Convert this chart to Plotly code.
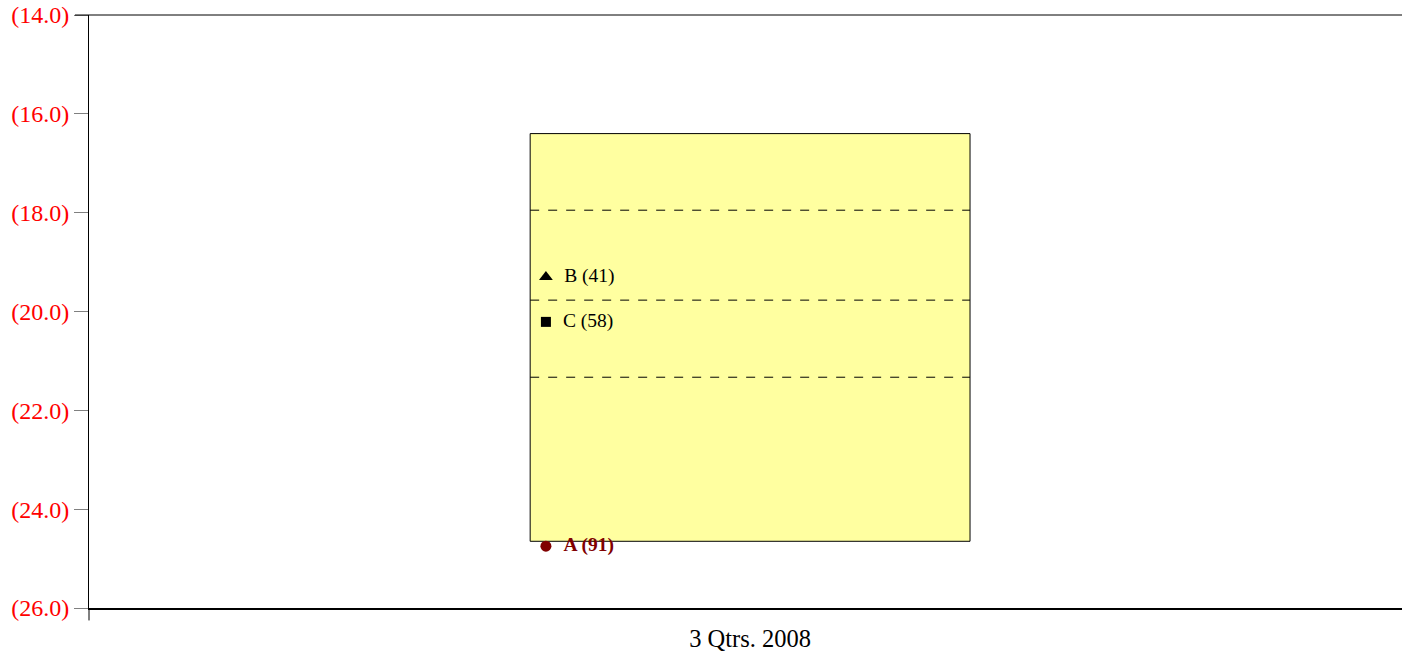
import plotly.graph_objects as go

# Data
period_label = "3 Qtrs. 2008"
y_ticks = [-14, -16, -18, -20, -22, -24, -26]
y_tick_labels = ["(14.0)", "(16.0)", "(18.0)", "(20.0)", "(22.0)", "(24.0)", "(26.0)"]
box_top = -16.4
box_bottom = -24.65
quartile_lines = [-17.95, -19.77, -21.33]
point_names = ["B (41)", "C (58)", "A (91)"]
point_values = [-19.3, -20.21, -24.75]
point_symbols = ["triangle-up", "square", "circle"]
point_sizes = [12, 10, 11]
point_colors = ["black", "black", "#800000"]
point_bold = [False, False, True]

box_x0, box_x1 = 0.336, 0.671
point_x = 0.348
center_x = (box_x0 + box_x1) / 2

fig = go.Figure()

# Box
fig.add_shape(type="rect", xref="x", yref="y", x0=box_x0, x1=box_x1,
              y0=box_bottom, y1=box_top, fillcolor="#FFFFA0",
              line=dict(color="black", width=1), layer="below")
for q in quartile_lines:
    fig.add_shape(type="line", xref="x", yref="y", x0=box_x0, x1=box_x1,
                  y0=q, y1=q, line=dict(color="black", width=1, dash="dash"))

for name, val, sym, sz, col, bold in zip(point_names, point_values, point_symbols,
                                          point_sizes, point_colors, point_bold):
    label = f"<b>{name}</b>" if bold else name
    fig.add_trace(go.Scatter(
        x=[point_x], y=[val], mode="markers+text",
        marker=dict(symbol=sym, size=sz, color=col),
        text=["\u00a0\u00a0" + label], textposition="middle right",
        textfont=dict(family="Liberation Serif", size=19.5, color=col),
        showlegend=False, hoverinfo="skip"))

# top border line
fig.add_shape(type="line", xref="paper", yref="paper", x0=-0.0107, x1=1, y0=1, y1=1,
              line=dict(color="black", width=1))
# y axis extension below
fig.add_shape(type="line", xref="paper", yref="paper", x0=0, x1=0, y0=0, y1=-0.021,
              line=dict(color="black", width=1))

fig.update_layout(
    width=1402, height=655,
    margin=dict(l=89, r=0, t=15, b=47),
    plot_bgcolor="white", paper_bgcolor="white",
    font=dict(family="Liberation Serif", size=20, color="black"),
    xaxis=dict(range=[0, 1], tickvals=[center_x], ticktext=[period_label],
               showline=True, linecolor="black", linewidth=2, ticks="",
               ticklabelstandoff=8,
               showgrid=False, zeroline=False, tickfont=dict(size=24.5, color="black"),
               fixedrange=True, automargin=False),
    yaxis=dict(range=[-26, -14], tickvals=y_ticks, ticktext=y_tick_labels,
               showline=True, linecolor="black", linewidth=1, ticks="outside",
               ticklen=14, tickcolor="#808080", showgrid=False, zeroline=False,
               tickfont=dict(size=24, color="red"), fixedrange=True, automargin=False),
)

fig.write_html("out.html", config={"displayModeBar": False},
               post_script="document.body.style.margin='0';document.body.style.overflow='hidden';")
